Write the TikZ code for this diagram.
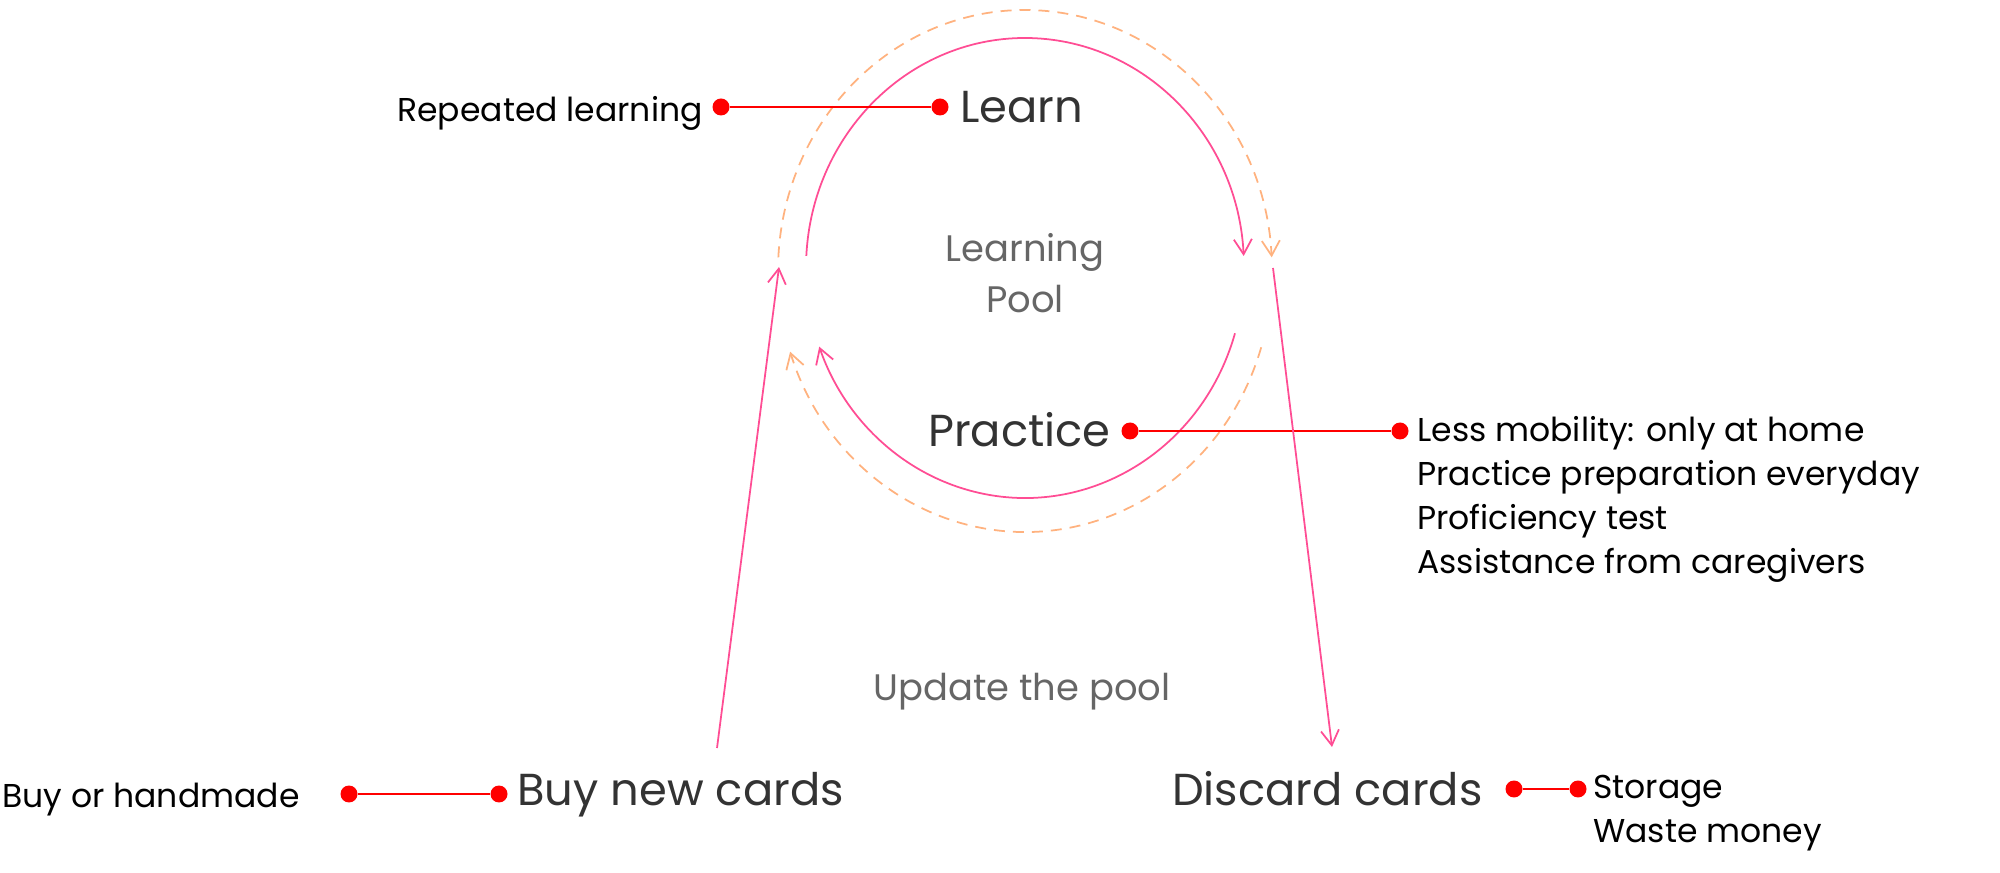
\documentclass[tikz,border=0pt]{standalone}
\usepackage{fontspec}
\setmainfont{Poppins}
\usetikzlibrary{arrows.meta,positioning,calc}
\definecolor{pinkline}{HTML}{FF4D94}
\definecolor{orangeline}{HTML}{FFB27F}
\definecolor{darktext}{HTML}{333333}
\definecolor{greytext}{HTML}{666666}

\begin{document}
\begin{tikzpicture}[x=0.02cm,y=0.02cm,
        reddot/.style={circle,fill=red,inner sep=0pt,minimum size=0.34cm},
        redline/.style={red,line width=1.2pt},
        big/.style={text=darktext,font=\fontsize{25.5}{30}\selectfont,inner sep=0pt},
        soft/.style={text=greytext,font=\fontsize{21}{28}\selectfont,inner sep=0pt},
        note/.style={text=black,font=\fontsize{18.8}{24}\selectfont,inner sep=0pt},
        pinkarc/.style={pinkline,line width=1pt,-{Straight Barb[length=0.3cm,width=0.36cm]}},
        dasharc/.style={orangeline,line width=1pt,dash pattern=on 0.22cm off 0.16cm,-{Straight Barb[length=0.3cm,width=0.36cm]}}]
        \useasboundingbox (0,0) rectangle (2000,872);

        % the pool
        \coordinate (inner) at (1025,604);
        \coordinate (outer) at (1025,601);
        \draw[pinkarc] (inner) ++(177:219 and 230) arc[start angle=177,end angle=3,x radius=219,y radius=230];
        \draw[pinkarc] (inner) ++(-16.5:219 and 230) arc[start angle=-16.5,end angle=-160,x radius=219,y radius=230];
        \draw[dasharc] (outer) ++(177:247 and 261) arc[start angle=177,end angle=3,x radius=247,y radius=261];
        \draw[dasharc] (outer) ++(-17:247 and 261) arc[start angle=-17,end angle=-162,x radius=247,y radius=261];
        \node[soft,anchor=base] (learning) at (1025,610) {Learning};
        \node[soft,anchor=base] (pool) at (1025,559) {Pool};

        % learn
        \node[big,anchor=base west] (learn) at (960,749) {Learn};
        \node[reddot] (learndot) at (940,765) {};
        \node[reddot] (repeatdot) at (721,765) {};
        \node[note,anchor=base east] (repeat) at (703,750) {Repeated learning};
        \draw[redline] (repeatdot) -- (learndot);

        % practice
        \node[big,anchor=base east] (practice) at (1111,425) {Practice};
        \node[reddot] (practicedot) at (1130,441) {};
        \node[reddot] (lessdot) at (1400,441) {};
        \draw[redline] (practicedot) -- (lessdot);
        \foreach \i/\t in {0/Less mobility: only at home,1/Practice preparation everyday,2/Proficiency test,3/Assistance from caregivers}
            {
                \node[note,anchor=base west] (less\i) at (1417,{430-43.7*\i}) {\t};
            }

        % update
        \node[soft,anchor=base] (update) at (1022,172) {Update the pool};
        \node[big,anchor=base west] (buy) at (517,67) {Buy new cards};
        \node[reddot] (buydot) at (499,78) {};
        \node[reddot] (handdot) at (349,78) {};
        \node[note,anchor=base west] (hand) at (2,65) {Buy or handmade};
        \draw[redline] (handdot) -- (buydot);

        \node[big,anchor=base east] (discard) at (1483,67) {Discard cards};
        \node[reddot] (discarddot) at (1514,83) {};
        \node[reddot] (storedot) at (1578,83) {};
        \draw[redline] (discarddot) -- (storedot);
        \node[note,anchor=base west] (store) at (1593,74) {Storage};
        \node[note,anchor=base west] (waste) at (1593,30) {Waste money};

        \coordinate (buyfrom) at (717,124);
        \coordinate (buyto) at (779,605);
        \coordinate (discardfrom) at (1273,604);
        \coordinate (discardto) at (1332,125);
        \draw[pinkarc] (buyfrom) -- (buyto);
        \draw[pinkarc] (discardfrom) -- (discardto);
    \end{tikzpicture}
\end{document}
